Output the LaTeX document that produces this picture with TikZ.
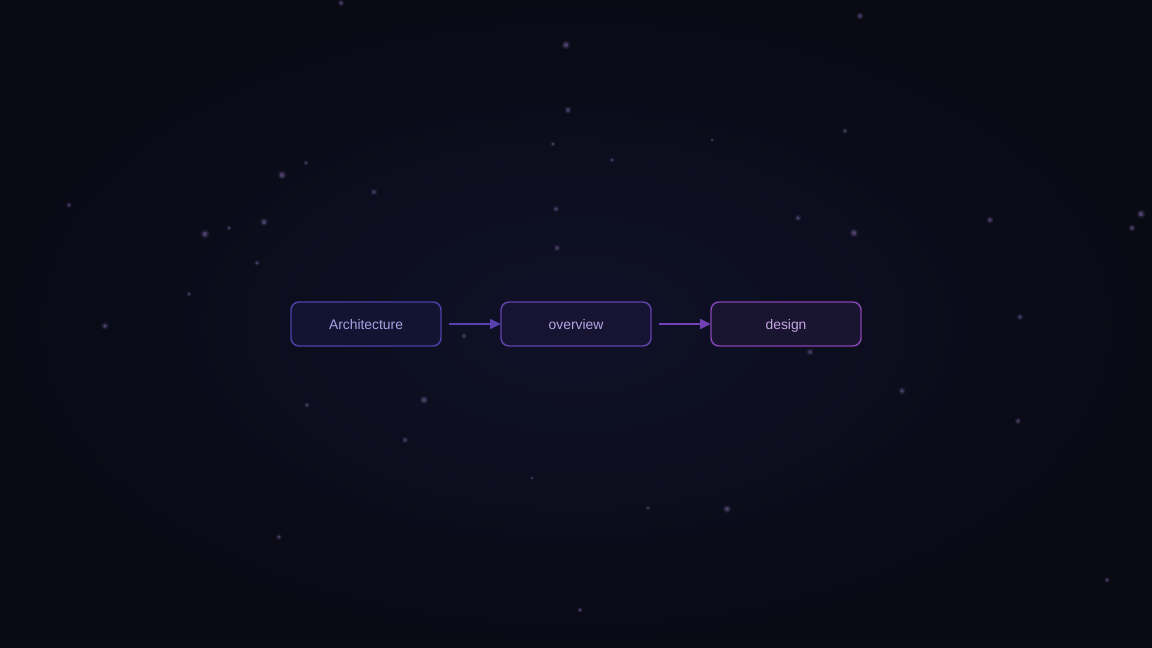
\documentclass[tikz,border=0pt]{standalone}
\usepackage{fontspec}
\setmainfont{Liberation Sans}
\usetikzlibrary{positioning,arrows.meta}
\definecolor{bgin}{HTML}{0F1128}
\definecolor{bgout}{HTML}{090A14}
\definecolor{stardot}{HTML}{4A3E66}
\definecolor{edgeA}{HTML}{4C40A8}
\definecolor{edgeB}{HTML}{6441B0}
\definecolor{edgeC}{HTML}{8545B2}
\definecolor{fillA}{HTML}{121432}
\definecolor{fillB}{HTML}{161431}
\definecolor{fillC}{HTML}{19142F}
\definecolor{textA}{HTML}{A9A1E4}
\definecolor{textB}{HTML}{B6A6E6}
\definecolor{textC}{HTML}{C6A6E2}
\definecolor{flowA}{HTML}{5840B0}
\definecolor{flowB}{HTML}{7241B6}
\tikzset{
% Node and edge styles for the flow: boxes and arrows
stage node/.style={rectangle,rounded corners=6pt,draw,line width=1.1pt,outer sep=0pt,
  minimum width=112.5pt,minimum height=33pt,inner sep=0pt,text height=9.2pt,text depth=1.2pt,
  font=\fontsize{10.4}{12}\selectfont},
flow edge/.style={line width=1.1pt,-{Triangle[length=8pt,width=7.5pt]},shorten <=6pt,shorten >=0.2pt},
star dot/.style={fill=stardot,draw=none}
}
\begin{document}
\begin{tikzpicture}[x=0.75pt,y=-0.75pt]
      % Background with a soft glow in the middle
      \shade[inner color=bgin,outer color=bgout] (0,0) rectangle (1152,648);
      \useasboundingbox (0,0) rectangle (1152,648);
      % Faint stars, each with a small halo
      \foreach \sx/\sy/\sr in {341/3/1.6,860/16/1.8,566/45/2.2,568/110/1.8,845/131/1.4,553/144/1.2,
        712/140/1,612/160/1.2,282/175/2.2,306/163/1.2,374/192/1.6,69/205/1.4,556/209/1.6,
        798/218/1.6,264/222/2,205/234/2.2,229/228/1.2,854/233/2.2,990/220/1.8,1141/214/2.2,
        1132/228/1.8,557/248/1.6,257/263/1.4,189/294/1.2,105/326/1.8,1020/317/1.6,464/336/1.4,
        810/352/1.8,902/391/1.8,424/400/2,307/405/1.4,1018/421/1.6,405/440/1.6,532/478/1,
        648/508/1.2,727/509/2,279/537/1.4,1107/580/1.4,580/610/1.4}
        {\fill[star dot,opacity=0.35] (\sx,\sy) circle ({1.9*\sr});
         \fill[star dot] (\sx,\sy) circle (\sr);}
      % The flow
      \node(arch)[stage node,draw=edgeA,fill=fillA,text=textA] at (366,324) {Architecture};
      \node(overview)[stage node,draw=edgeB,fill=fillB,text=textB,right=45pt of arch] {overview};
      \node(design)[stage node,draw=edgeC,fill=fillC,text=textC,right=45pt of overview] {design};
      % Arrows between the boxes
      \draw[flow edge,flowA] (arch) -- (overview);
      \draw[flow edge,flowB] (overview) -- (design);
    \end{tikzpicture}
\end{document}
